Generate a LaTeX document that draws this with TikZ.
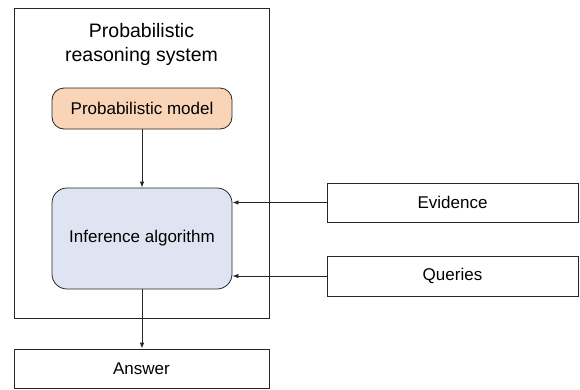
\documentclass[tikz,border=0pt]{standalone}
\usepackage{fontspec}
\setmainfont{Liberation Sans}
\usetikzlibrary{arrows.meta}
\definecolor{peach}{RGB}{250,212,182}
\definecolor{paleblue}{RGB}{222,228,242}
\begin{document}
\begin{tikzpicture}[x=1pt,y=-1pt,
  box/.style={draw=black!85, line width=0.8pt, inner sep=0pt, font=\fontsize{17}{20}\selectfont},
  arr/.style={draw=black!85, line width=0.8pt, -{Latex[length=6pt,width=4.5pt]}}]
\useasboundingbox (0,0) rectangle (580,389);
\node[box, minimum width=255pt, minimum height=310pt] (sys) at (141.5,163) {};
\node[align=center, font=\fontsize{19.5}{24}\selectfont] (title) at (141.5,44) {Probabilistic\\reasoning system};
\node[box, fill=peach, rounded corners=12pt, minimum width=180pt, minimum height=41pt] (model) at (142,108.5) {Probabilistic model};
\node[box, fill=paleblue, rounded corners=15pt, minimum width=180pt, minimum height=101pt] (inf) at (142,238.5) {Inference algorithm};
\node[box, minimum width=251pt, minimum height=39pt] (ev) at (452.5,202.5) {Evidence};
\node[box, minimum width=251pt, minimum height=40pt] (q) at (452.5,276) {Queries};
\node[box, minimum width=255pt, minimum height=39pt] (ans) at (141.5,368.5) {Answer};
\draw[arr] (model) -- (inf);
\draw[arr] (ev.west) -- (ev.west -| inf.east);
\draw[arr] (q.west) -- (q.west -| inf.east);
\draw[arr] (inf.south) -- (inf.south |- ans.north);
\end{tikzpicture}
\end{document}
